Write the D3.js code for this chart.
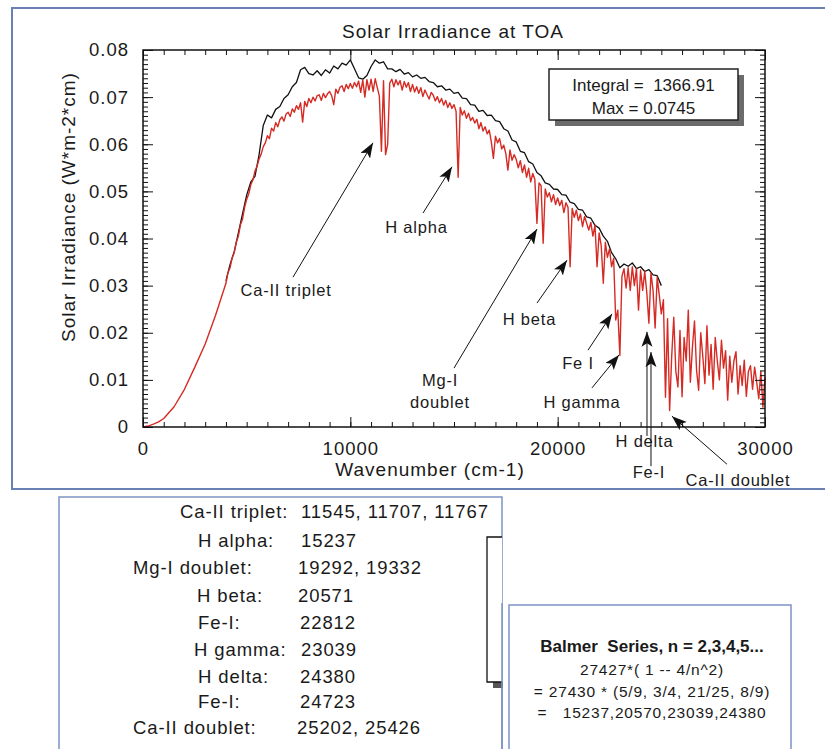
<!DOCTYPE html>
<html>
<head>
<meta charset="utf-8">
<script src="https://cdn.jsdelivr.net/npm/d3@7"></script>
<style>
  body { margin: 0; background: #fff; }
  svg { display: block; font-family: "Liberation Sans", Arial, sans-serif; }
  text { white-space: pre; fill: #1a1a1a; }
</style>
</head>
<body>
<svg id="chart" width="825" height="749"></svg>
<script>
// ---- data (wavenumber in cm-1, irradiance in W*m-2*cm) ----
// smooth low-wavenumber part of the red spectrum
const redLowWn = [0, 250, 500, 750, 1000, 1500, 2000, 2500, 3000, 3500];
const redLowIrr = [0, 0.0002, 0.0006, 0.0011, 0.0018, 0.0043, 0.0080, 0.0127, 0.0176, 0.0237];

// red spectrum sampled every 100 cm-1 from 4000 to 30000
const redStart = 4000;
const redStep = 100;
const redIrr = [
  0.0305, 0.0328, 0.0338, 0.0359, 0.0370, 0.0392, 0.0405, 0.0429, 0.0441, 0.0466, // 4000
  0.0483, 0.0495, 0.0514, 0.0524, 0.0543, 0.0553, 0.0569, 0.0579, 0.0595, 0.0603, // 5000
  0.0618, 0.0612, 0.0634, 0.0628, 0.0646, 0.0637, 0.0652, 0.0658, 0.0649, 0.0664, // 6000
  0.0668, 0.0659, 0.0675, 0.0668, 0.0682, 0.0674, 0.0688, 0.0647, 0.0691, 0.0680, // 7000
  0.0697, 0.0688, 0.0700, 0.0692, 0.0703, 0.0705, 0.0693, 0.0708, 0.0699, 0.0707, // 8000
  0.0712, 0.0703, 0.0684, 0.0717, 0.0708, 0.0721, 0.0724, 0.0712, 0.0727, 0.0718, // 9000
  0.0729, 0.0719, 0.0731, 0.0722, 0.0734, 0.0710, 0.0736, 0.0700, 0.0737, 0.0715, // 10000
  0.0738, 0.0712, 0.0739, 0.0720, 0.0702, 0.0585, 0.0735, 0.0578, 0.0600, 0.0730, // 11000
  0.0738, 0.0722, 0.0737, 0.0726, 0.0735, 0.0715, 0.0733, 0.0721, 0.0731, 0.0712, // 12000
  0.0727, 0.0711, 0.0722, 0.0708, 0.0720, 0.0701, 0.0715, 0.0705, 0.0696, 0.0710, // 13000
  0.0704, 0.0692, 0.0701, 0.0688, 0.0697, 0.0683, 0.0693, 0.0678, 0.0688, 0.0676, // 14000
  0.0684, 0.0670, 0.0530, 0.0678, 0.0662, 0.0671, 0.0655, 0.0666, 0.0650, 0.0657, // 15000
  0.0645, 0.0653, 0.0633, 0.0646, 0.0628, 0.0637, 0.0622, 0.0630, 0.0605, 0.0570, // 16000
  0.0617, 0.0603, 0.0612, 0.0590, 0.0598, 0.0580, 0.0545, 0.0588, 0.0566, 0.0578, // 17000
  0.0568, 0.0550, 0.0565, 0.0540, 0.0556, 0.0530, 0.0549, 0.0520, 0.0538, 0.0525, // 18000
  0.0432, 0.0518, 0.0512, 0.0390, 0.0505, 0.0488, 0.0497, 0.0478, 0.0493, 0.0472, // 19000
  0.0486, 0.0470, 0.0481, 0.0455, 0.0476, 0.0466, 0.0340, 0.0464, 0.0445, 0.0460, // 20000
  0.0438, 0.0452, 0.0425, 0.0447, 0.0432, 0.0418, 0.0434, 0.0405, 0.0428, 0.0340, // 21000
  0.0412, 0.0385, 0.0305, 0.0392, 0.0360, 0.0378, 0.0340, 0.0358, 0.0227, 0.0248, // 22000
  0.0152, 0.0320, 0.0336, 0.0295, 0.0338, 0.0290, 0.0340, 0.0300, 0.0336, 0.0248, // 23000
  0.0333, 0.0290, 0.0330, 0.0285, 0.0220, 0.0327, 0.0290, 0.0210, 0.0318, 0.0280, // 24000
  0.0240, 0.0270, 0.0063, 0.0230, 0.0035, 0.0150, 0.0233, 0.0118, 0.0085, 0.0205, // 25000
  0.0064, 0.0190, 0.0140, 0.0248, 0.0095, 0.0170, 0.0225, 0.0120, 0.0078, 0.0200, // 26000
  0.0150, 0.0092, 0.0215, 0.0110, 0.0175, 0.0080, 0.0190, 0.0140, 0.0100, 0.0184, // 27000
  0.0125, 0.0162, 0.0057, 0.0150, 0.0095, 0.0140, 0.0160, 0.0070, 0.0130, 0.0088, // 28000
  0.0142, 0.0065, 0.0118, 0.0130, 0.0080, 0.0127, 0.0095, 0.0060, 0.0118, 0.0042, // 29000
  0.0105                                                                          // 30000
];

// black spectrum sampled every 200 cm-1 from 4000 to 25000
const blackStart = 4000;
const blackStep = 200;
const blackIrr = [
  0.0310, 0.0345, 0.0372, 0.0412, 0.0452, 0.0492, 0.0520, 0.0532, 0.0578, 0.0640, // 4000
  0.0662, 0.0656, 0.0674, 0.0680, 0.0697, 0.0705, 0.0722, 0.0731, 0.0758, 0.0763, // 6000
  0.0750, 0.0747, 0.0756, 0.0746, 0.0758, 0.0751, 0.0766, 0.0760, 0.0772, 0.0768, // 8000
  0.0779, 0.0760, 0.0741, 0.0738, 0.0746, 0.0765, 0.0779, 0.0772, 0.0775, 0.0760, // 10000
  0.0760, 0.0754, 0.0759, 0.0749, 0.0752, 0.0743, 0.0747, 0.0740, 0.0742, 0.0733, // 12000
  0.0731, 0.0722, 0.0724, 0.0715, 0.0717, 0.0708, 0.0710, 0.0698, 0.0697, 0.0684, // 14000
  0.0683, 0.0670, 0.0672, 0.0661, 0.0662, 0.0650, 0.0648, 0.0633, 0.0628, 0.0609, // 16000
  0.0605, 0.0585, 0.0582, 0.0563, 0.0558, 0.0540, 0.0533, 0.0518, 0.0515, 0.0505, // 18000
  0.0504, 0.0493, 0.0492, 0.0477, 0.0474, 0.0462, 0.0460, 0.0446, 0.0443, 0.0428, // 20000
  0.0422, 0.0405, 0.0394, 0.0370, 0.0357, 0.0338, 0.0346, 0.0341, 0.0348, 0.0336, // 22000
  0.0340, 0.0330, 0.0334, 0.0323, 0.0321, 0.0300                                  // 24000
];

// axis ticks
const xMajor = [0, 10000, 20000, 30000];
const xMajorLabels = ['0', '10000', '20000', '30000'];
const yMajor = [0, 0.01, 0.02, 0.03, 0.04, 0.05, 0.06, 0.07, 0.08];
const yMajorLabels = ['0', '0.01', '0.02', '0.03', '0.04', '0.05', '0.06', '0.07', '0.08'];

// annotations: label anchor, arrow tail and tip, all in data units
const notes = [
  { text: ['Ca-II triplet'], at: [6897, 0.0278], from: [7235, 0.0318], to: [11093, 0.0603] },
  { text: ['H alpha'], at: [13191, 0.0412], from: [13504, 0.0454], to: [14903, 0.0552] },
  { text: ['Mg-I', 'doublet'], at: [14324, 0.0087], from: [15000, 0.0125], to: [19003, 0.0420] },
  { text: ['H beta'], at: [18641, 0.0216], from: [19003, 0.0263], to: [20450, 0.0354] },
  { text: ['Fe I'], at: [20980, 0.0123], from: [21462, 0.0163], to: [22620, 0.0240] },
  { text: ['H gamma'], at: [21173, 0.0040], from: [21655, 0.0083], to: [22957, 0.0153] },
  { text: ['H delta'], at: [24187, -0.0042], from: [24308, -0.0019], to: [24308, 0.0202] },
  { text: ['Fe-I'], at: [24404, -0.0108], from: [24501, -0.0083], to: [24501, 0.0159] },
  { text: ['Ca-II doublet'], at: [28697, -0.0125], from: [28166, -0.0079], to: [25513, 0.0023] }
];

const statLines = ['Integral =  1366.91', 'Max = 0.0745'];

const lineNames = ['Ca-II triplet:', 'H alpha:', 'Mg-I doublet:', 'H beta:', 'Fe-I:',
  'H gamma:', 'H delta:', 'Fe-I:', 'Ca-II doublet:'];
const lineWavenumbers = ['11545, 11707, 11767', '15237', '19292, 19332', '20571', '22812',
  '23039', '24380', '24723', '25202, 25426'];

const balmerLines = ['Balmer  Series, n = 2,3,4,5...', '27427*( 1 -- 4/n^2)',
  '= 27430 * (5/9, 3/4, 21/25, 8/9)', '=   15237,20570,23039,24380'];

// ---- layout ----
const svg = d3.select('#chart');
const x = d3.scaleLinear().domain([0, 30000]).range([143, 765]);
const y = d3.scaleLinear().domain([0, 0.08]).range([427, 50]);

const xMinor = d3.range(0, 31).map(i => i * 1000);
const yMinor = d3.range(0, 81).map(i => i / 1000);

// blue frame around the plot
svg.append('path')
  .attr('d', 'M825,8H12V489H825')
  .attr('fill', 'none')
  .attr('stroke', '#6a7fb4')
  .attr('stroke-width', 2);

// arrow head
svg.append('defs').append('marker')
  .attr('id', 'head')
  .attr('markerUnits', 'userSpaceOnUse')
  .attr('markerWidth', 16)
  .attr('markerHeight', 12)
  .attr('refX', 15)
  .attr('refY', 5.5)
  .attr('orient', 'auto')
  .append('path')
  .attr('d', 'M0,0L15,5.5L0,11L3.5,5.5Z')
  .attr('fill', '#111');

// spectra
const blackPts = blackIrr.map((v, i) => [blackStart + i * blackStep, v]);
const redPts = redLowWn.map((w, i) => [w, redLowIrr[i]])
  .concat(redIrr.map((v, i) => [redStart + i * redStep, v]));

const line = d3.line().x(d => x(d[0])).y(d => y(d[1]));

svg.append('path')
  .datum(blackPts)
  .attr('d', line)
  .attr('fill', 'none')
  .attr('stroke', '#111')
  .attr('stroke-width', 1.3)
  .attr('stroke-linejoin', 'round');

svg.append('path')
  .datum(redPts)
  .attr('d', line)
  .attr('fill', 'none')
  .attr('stroke', '#d52b24')
  .attr('stroke-width', 1.4)
  .attr('stroke-linejoin', 'round');

// axes: ticks point inward on all four sides
function addAxis (axis, transform, withLabels) {
  const g = svg.append('g')
    .attr('transform', transform)
    .attr('color', '#111')
    .call(axis);
  g.select('.domain').remove();
  g.selectAll('line').attr('stroke-width', 1);
  if (withLabels) {
    g.selectAll('text')
      .attr('font-family', null)
      .style('font-size', '18.5px')
      .style('letter-spacing', '1px');
  }
  g.attr('font-family', null).attr('font-size', null);
  return g;
}

addAxis(d3.axisBottom(x).tickValues(xMinor).tickSize(-5).tickSizeOuter(0).tickFormat(''), 'translate(0,427)');
addAxis(d3.axisBottom(x).tickValues(xMajor).tickSize(-10).tickSizeOuter(0).tickPadding(15)
  .tickFormat((d, i) => xMajorLabels[i]), 'translate(0,427)', true);
addAxis(d3.axisTop(x).tickValues(xMinor).tickSize(-5).tickSizeOuter(0).tickFormat(''), 'translate(0,50)');
addAxis(d3.axisTop(x).tickValues(xMajor).tickSize(-10).tickSizeOuter(0).tickFormat(''), 'translate(0,50)');
addAxis(d3.axisLeft(y).tickValues(yMinor).tickSize(-5).tickSizeOuter(0).tickFormat(''), 'translate(143,0)');
addAxis(d3.axisLeft(y).tickValues(yMajor).tickSize(-10).tickSizeOuter(0).tickPadding(14)
  .tickFormat((d, i) => yMajorLabels[i]), 'translate(143,0)', true);
addAxis(d3.axisRight(y).tickValues(yMinor).tickSize(-5).tickSizeOuter(0).tickFormat(''), 'translate(765,0)');
addAxis(d3.axisRight(y).tickValues(yMajor).tickSize(-10).tickSizeOuter(0).tickFormat(''), 'translate(765,0)');

svg.append('rect')
  .attr('x', x(0)).attr('y', y(0.08))
  .attr('width', x(30000) - x(0)).attr('height', y(0) - y(0.08))
  .attr('fill', 'none')
  .attr('stroke', '#111')
  .attr('stroke-width', 1.5);

// titles
svg.append('text')
  .attr('x', 453).attr('y', 38)
  .attr('text-anchor', 'middle')
  .style('font-size', '19px').style('letter-spacing', '1px')
  .text('Solar Irradiance at TOA');

svg.append('text')
  .attr('x', 430).attr('y', 476)
  .attr('text-anchor', 'middle')
  .style('font-size', '19px').style('letter-spacing', '1px')
  .text('Wavenumber (cm-1)');

svg.append('text')
  .attr('transform', 'translate(75,207) rotate(-90)')
  .attr('text-anchor', 'middle')
  .style('font-size', '19px').style('letter-spacing', '1px')
  .text('Solar Irradiance (W*m-2*cm)');

// integral / max box with drop shadow
svg.append('rect').attr('x', 555).attr('y', 75).attr('width', 189).attr('height', 51).attr('fill', '#6b6b6b');
svg.append('rect').attr('x', 549).attr('y', 69).attr('width', 189).attr('height', 51)
  .attr('fill', '#fff').attr('stroke', '#222').attr('stroke-width', 1.5);
svg.selectAll('.stat')
  .data(statLines)
  .enter()
  .append('text')
  .attr('class', 'stat')
  .attr('x', 643.5)
  .attr('y', (d, i) => 90.5 + i * 23)
  .attr('text-anchor', 'middle')
  .style('font-size', '17px')
  .text(d => d);

// annotation arrows and labels
const ann = svg.append('g');
ann.selectAll('line')
  .data(notes)
  .enter()
  .append('line')
  .attr('x1', d => x(d.from[0]))
  .attr('y1', d => y(d.from[1]))
  .attr('x2', d => x(d.to[0]))
  .attr('y2', d => y(d.to[1]))
  .attr('stroke', '#111')
  .attr('stroke-width', 1)
  .attr('marker-end', 'url(#head)');

ann.selectAll('text')
  .data(notes)
  .enter()
  .append('text')
  .attr('x', d => x(d.at[0]))
  .attr('y', d => y(d.at[1]))
  .attr('text-anchor', 'middle')
  .style('font-size', '16.5px')
  .style('letter-spacing', '0.8px')
  .each(function (d) {
    d3.select(this).selectAll('tspan')
      .data(d.text)
      .enter()
      .append('tspan')
      .attr('x', x(d.at[0]))
      .attr('dy', (t, i) => i === 0 ? 0 : 22)
      .text(t => t);
  });

// lower-left table of line positions
svg.append('path')
  .attr('d', 'M59,749V497H502V749')
  .attr('fill', '#fff')
  .attr('stroke', '#7d92c6')
  .attr('stroke-width', 1.5);

const tableNameX = [180, 198, 133, 197, 198, 194, 198, 198, 133];
const tableValueX = [301, 301, 298, 298, 300, 301, 300, 300, 297];
const tableRowY = [518, 546.5, 573.5, 601.5, 629, 656, 683, 708, 734];

svg.selectAll('.lname')
  .data(lineNames)
  .enter()
  .append('text')
  .attr('class', 'lname')
  .attr('x', (d, i) => tableNameX[i])
  .attr('y', (d, i) => tableRowY[i])
  .style('font-size', '18.5px')
  .style('letter-spacing', '0.9px')
  .text(d => d);

svg.selectAll('.lval')
  .data(lineWavenumbers)
  .enter()
  .append('text')
  .attr('class', 'lval')
  .attr('x', (d, i) => tableValueX[i])
  .attr('y', (d, i) => tableRowY[i])
  .style('font-size', '18.5px')
  .style('letter-spacing', '0.9px')
  .text(d => d);

// partly hidden box behind the table edge
svg.append('rect').attr('x', 493).attr('y', 682).attr('width', 10).attr('height', 6).attr('fill', '#555');
svg.append('path')
  .attr('d', 'M502,537H487V682H502')
  .attr('fill', '#fff')
  .attr('stroke', '#111')
  .attr('stroke-width', 1.3);
svg.append('line')
  .attr('x1', 502).attr('x2', 502).attr('y1', 603).attr('y2', 749)
  .attr('stroke', '#7d92c6').attr('stroke-width', 1.5);

// Balmer series box
svg.append('path')
  .attr('d', 'M509,749V605H791V749')
  .attr('fill', '#fff')
  .attr('stroke', '#7d92c6')
  .attr('stroke-width', 1.5);

svg.selectAll('.balmer')
  .data(balmerLines)
  .enter()
  .append('text')
  .attr('class', 'balmer')
  .attr('x', 652)
  .attr('y', (d, i) => [651.5, 675, 696.5, 718][i])
  .attr('text-anchor', 'middle')
  .style('font-size', (d, i) => i === 0 ? '17px' : '15.5px')
  .style('font-weight', (d, i) => i === 0 ? 'bold' : 'normal')
  .style('letter-spacing', (d, i) => i === 0 ? '0px' : '0.8px')
  .text(d => d);
</script>
</body>
</html>
